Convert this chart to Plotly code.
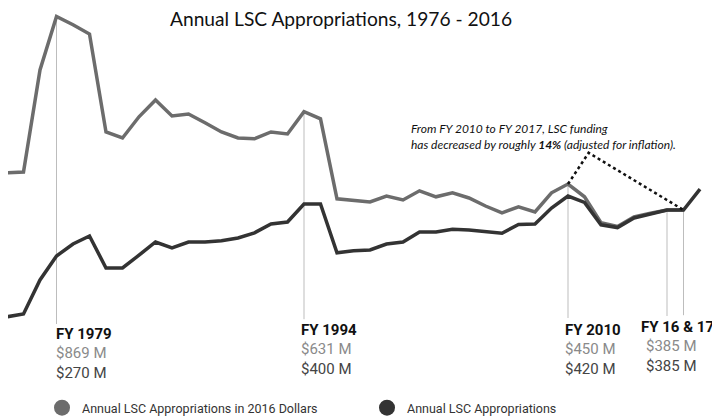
import plotly.graph_objects as go

# The page places the figure 8px from the top-left corner, so the figure is
# sized to the visible area and reference pixel positions are shifted by 8.
OFF = 8
W, H = 720 - OFF, 417 - OFF

years = list(range(1976, 2019))
approp_2016_dollars = [478, 480, 735, 869, 848, 825, 580, 565, 618, 660,
                       620, 625, 603, 580, 565, 563, 580, 575, 631, 613,
                       413, 410, 405, 420, 410, 433, 418, 428, 415, 395,
                       378, 393, 380, 428, 450, 418, 353, 344, 368, 377,
                       385, 385, None]
approp_nominal = [118, 125, 210, 270, 300, 320, 240, 240, 272, 305,
                  290, 305, 305, 308, 315, 328, 350, 355, 400, 400,
                  278, 283, 285, 300, 305, 330, 330, 337, 335, 331,
                  327, 349, 350, 390, 420, 404, 348, 341, 365, 375,
                  385, 385, 437]

marker_years = [1979, 1994, 2010, 2016, 2017]
marker_bottom = [100, 112, 115, 120, 122]

label_titles = ["FY 1979", "FY 1994", "FY 2010", "FY 16 & 17"]
label_real = ["$869 M", "$631 M", "$450 M", "$385 M"]
label_nominal = ["$270 M", "$400 M", "$420 M", "$385 M"]

# dotted annotation pointer (2010 -> apex -> 2017)
pointer_x = [2010, 2011.25, 2017]
pointer_y = [450, 528, 385]

LIGHT = "#6c6c6c"
DARK = "#333333"

fig = go.Figure()

# vertical marker lines
for yr, bot in zip(marker_years, marker_bottom):
    i = years.index(yr)
    top = max(v for v in (approp_2016_dollars[i], approp_nominal[i]) if v is not None)
    fig.add_trace(go.Scatter(x=[yr, yr], y=[top, bot], mode="lines",
                             line=dict(color="#bdbdbd", width=1),
                             showlegend=False, hoverinfo="skip"))

fig.add_trace(go.Scatter(x=years, y=approp_2016_dollars, mode="lines",
                         line=dict(color=LIGHT, width=3.5),
                         name="Annual LSC Appropriations in 2016 Dollars",
                         showlegend=False))
fig.add_trace(go.Scatter(x=years, y=approp_nominal, mode="lines",
                         line=dict(color=DARK, width=3.5),
                         name="Annual LSC Appropriations", showlegend=False))

fig.add_trace(go.Scatter(x=pointer_x, y=pointer_y, mode="lines",
                         line=dict(color="#111111", width=2.5, dash="dot"),
                         showlegend=False, hoverinfo="skip"))

# legend entries (circles)
fig.add_trace(go.Scatter(x=[None], y=[None], mode="markers",
                         marker=dict(color=LIGHT, size=16),
                         name="Annual LSC Appropriations in 2016 Dollars"))
fig.add_trace(go.Scatter(x=[None], y=[None], mode="markers",
                         marker=dict(color=DARK, size=16),
                         name="Annual LSC Appropriations"))


def px(x):
    return (x - OFF) / W


def py(y):
    return 1 - (y - OFF) / H


label_x = [54, 299, 563, 716]
label_anchor = ["left", "left", "left", "right"]
label_y = [333.5, 329.5, 329.5, 326.5]
for t, r, n, lx, la, ly in zip(label_titles, label_real, label_nominal,
                               label_x, label_anchor, label_y):
    fig.add_annotation(x=px(lx), y=py(ly), xref="paper", yref="paper",
                       xanchor=la, yanchor="middle", showarrow=False,
                       text="<b>%s</b>" % t,
                       font=dict(family="Roboto", size=15, color="#111111"))
    vx = px(lx) if la == "left" else px(644)
    fig.add_annotation(x=vx, y=py(ly + 19.5), xref="paper", yref="paper",
                       xanchor="left", yanchor="middle", showarrow=False,
                       text=r, font=dict(family="Roboto", size=15, color="#8a8a8a"))
    fig.add_annotation(x=vx, y=py(ly + 39), xref="paper", yref="paper",
                       xanchor="left", yanchor="middle", showarrow=False,
                       text=n, font=dict(family="Roboto", size=15, color="#444444"))

fig.add_annotation(x=px(409), y=py(136), xref="paper", yref="paper",
                   xanchor="left", yanchor="middle", showarrow=False, align="left",
                   text="<i>From FY 2010 to FY 2017, LSC funding<br>"
                        "has decreased by roughly <b>14%</b> (adjusted for inflation).</i>",
                   font=dict(family="Lato", size=12, color="#111111"))

fig.add_annotation(x=px(341), y=py(18), xref="paper", yref="paper",
                   xanchor="center", yanchor="middle", showarrow=False,
                   text="Annual LSC Appropriations, 1976 - 2016",
                   font=dict(family="Lato", size=19.2, color="#111111"))

# reference pixel x = 7 + (year - 1976) * 16.5 ; pixel y = 204 + (400 - v) / 2.5
px_per_year = 16.5
x0 = 1976 - (7 - OFF) / px_per_year
x1 = x0 + W / px_per_year
y_top = 400 + (204 - OFF) * 2.5
y_bot = y_top - H * 2.5
fig.update_layout(
    width=W, height=H,
    margin=dict(l=0, r=0, t=0, b=0, autoexpand=False),
    paper_bgcolor="white", plot_bgcolor="white",
    xaxis=dict(range=[x0, x1], visible=False, fixedrange=True),
    yaxis=dict(range=[y_bot, y_top], visible=False, fixedrange=True),
    legend=dict(orientation="h", x=px(42), y=py(408), xanchor="left",
                yanchor="middle", font=dict(family="Roboto", size=12.5, color="#333333"),
                entrywidth=280, entrywidthmode="pixels", bgcolor="rgba(0,0,0,0)"),
    showlegend=True,
)

fig.write_html("out.html")
